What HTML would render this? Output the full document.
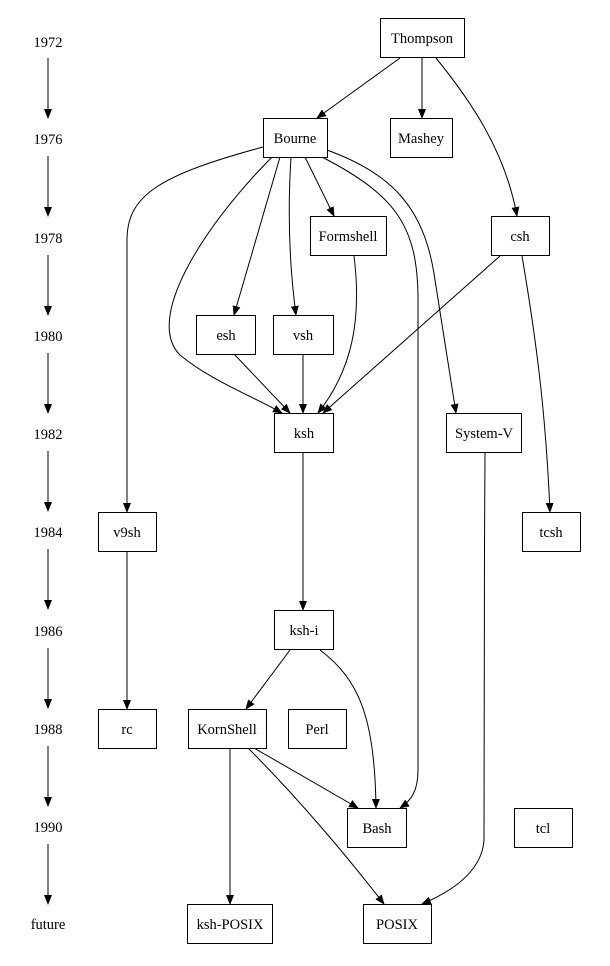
<!DOCTYPE html>
<html><head><meta charset="utf-8"><style>
html,body{margin:0;padding:0;background:#fff;}
svg{display:block}
text{font-family:"Liberation Serif",serif;font-size:14.5px;fill:#000}
</style></head><body>
<svg width="610" height="966" viewBox="0 0 610 966" xmlns="http://www.w3.org/2000/svg">
<defs><marker id="a" markerWidth="10" markerHeight="8" refX="9" refY="4" orient="auto" markerUnits="userSpaceOnUse"><path d="M0,0 L10,4 L0,8 z" fill="#000"/></marker></defs>
<g text-anchor="middle">
<text x="48" y="47">1972</text><text x="48" y="144">1976</text><text x="48" y="243">1978</text>
<text x="48" y="341">1980</text><text x="48" y="439">1982</text><text x="48" y="537">1984</text>
<text x="48" y="636">1986</text><text x="48" y="734">1988</text><text x="48" y="832">1990</text>
<text x="48" y="929">future</text>
</g>
<g stroke="#000" fill="none" marker-end="url(#a)">
<path d="M48,58 L48,118"/><path d="M48,156 L48,216"/><path d="M48,255 L48,315"/>
<path d="M48,353 L48,413"/><path d="M48,451 L48,511"/><path d="M48,549 L48,609"/>
<path d="M48,648 L48,708"/><path d="M48,746 L48,806"/><path d="M48,844 L48,904"/>
<path d="M400,58 L317,118"/>
<path d="M422,58 L422,118"/>
<path d="M436,58 C470,100 505,150 517,216"/>
<path d="M263,147 C160,175 127,195 127,240 L127,512"/>
<path d="M272,157 C200,230 145,320 180,355 C210,380 250,395 282,413"/>
<path d="M280,157 L234,315"/>
<path d="M291,157 C287,220 290,270 296,315"/>
<path d="M305,157 L334,216"/>
<path d="M322,157 C395,195 418,225 418,300 L418,770 C418,790 412,800 400,808"/>
<path d="M327,150 C395,175 425,210 435,280 L456,413"/>
<path d="M354,256 C362,320 352,370 318,413"/>
<path d="M500,256 L323,413"/>
<path d="M234,354 L290,413"/>
<path d="M303,354 L303,413"/>
<path d="M303,452 L303,610"/>
<path d="M485,452 C484,600 484,780 484,840 C482,870 455,890 422,904"/>
<path d="M522,256 C538,350 546,420 550,512"/>
<path d="M127,551 L127,709"/>
<path d="M290,650 L246,709"/>
<path d="M320,650 C360,680 375,720 376,808"/>
<path d="M230,748 L230,904"/>
<path d="M254,748 L358,808"/>
<path d="M248,748 C300,800 350,860 384,904"/>
</g>
<g stroke="#000" fill="#fff">
<rect x="380.5" y="18.5" width="84" height="39"/>
<rect x="263.5" y="118.5" width="64" height="39"/>
<rect x="390.5" y="118.5" width="62" height="39"/>
<rect x="310.5" y="216.5" width="76" height="39"/>
<rect x="491.5" y="216.5" width="58" height="39"/>
<rect x="196.5" y="315.5" width="59" height="39"/>
<rect x="273.5" y="315.5" width="60" height="39"/>
<rect x="274.5" y="413.5" width="59" height="39"/>
<rect x="446.5" y="413.5" width="75" height="39"/>
<rect x="98.5" y="512.5" width="58" height="39"/>
<rect x="522.5" y="512.5" width="58" height="39"/>
<rect x="274.5" y="610.5" width="59" height="39"/>
<rect x="98.5" y="709.5" width="58" height="39"/>
<rect x="188.5" y="709.5" width="78" height="39"/>
<rect x="288.5" y="709.5" width="58" height="39"/>
<rect x="347.5" y="808.5" width="59" height="39"/>
<rect x="514.5" y="808.5" width="58" height="39"/>
<rect x="187.5" y="904.5" width="85" height="39"/>
<rect x="363.5" y="904.5" width="68" height="39"/>
</g>
<g text-anchor="middle">
<text x="422" y="43">Thompson</text><text x="295" y="143">Bourne</text><text x="421" y="143">Mashey</text>
<text x="348" y="241">Formshell</text><text x="520" y="241">csh</text><text x="226" y="340">esh</text>
<text x="303" y="340">vsh</text><text x="304" y="438">ksh</text><text x="484" y="438">System-V</text>
<text x="127" y="537">v9sh</text><text x="551" y="537">tcsh</text><text x="304" y="635">ksh-i</text>
<text x="127" y="734">rc</text><text x="227" y="734">KornShell</text><text x="317" y="734">Perl</text>
<text x="377" y="833">Bash</text><text x="543" y="833">tcl</text><text x="230" y="929">ksh-POSIX</text>
<text x="397" y="929">POSIX</text>
</g>
</svg>
</body></html>
